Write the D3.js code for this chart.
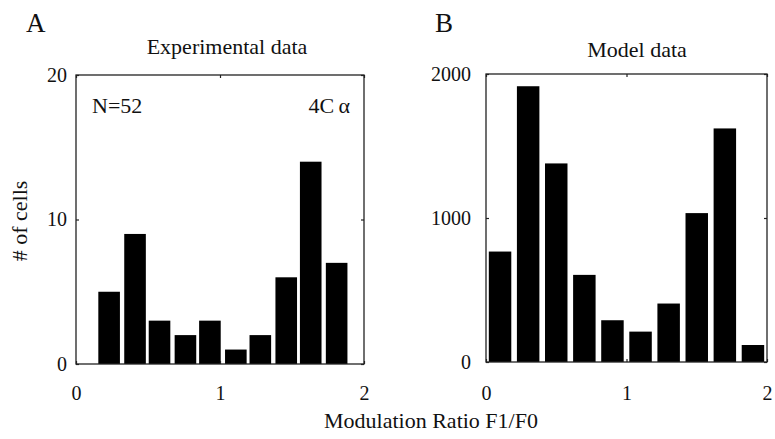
<!DOCTYPE html>
<html>
<head>
<meta charset="utf-8">
<script src="https://cdn.jsdelivr.net/npm/d3@7"></script>
<style>
body { margin: 0; background: #fff; }
text { font-family: "Liberation Serif", "Times New Roman", serif; fill: #111; }
</style>
</head>
<body>
<svg id="fig" width="775" height="439"></svg>
<script>

// panel A: experimental histogram (bin centres, counts)
var exp_centers = [0.23, 0.41, 0.58, 0.76, 0.93, 1.11, 1.28, 1.46, 1.63, 1.81];
var exp_counts  = [5, 9, 3, 2, 3, 1, 2, 6, 14, 7];

// panel B: model histogram
var model_centers = [0.1, 0.3, 0.5, 0.7, 0.9, 1.1, 1.3, 1.5, 1.7, 1.9];
var model_counts  = [767, 1915, 1379, 605, 290, 211, 406, 1034, 1622, 118];

var x_ticks       = [0, 1, 2];
var exp_y_ticks   = [0, 10, 20];
var model_y_ticks = [0, 1000, 2000];

var svg = d3.select("#fig");

function add_panel( box, centers, counts, bar_w, yExt, yTicks, xpad, ypad ){
    var xAxis = d3.scaleLinear().domain([0, 2]).range([box.left, box.right]);
    var yAxis = d3.scaleLinear().domain(yExt).range([box.bottom, box.top]);

    var grp = svg.append("g");

    // bars
    grp.selectAll("rect.bar")
        .data(counts)
        .enter().append("rect")
            .attr("class", "bar")
            .attr("x", function(d, i){ return xAxis(centers[i] - bar_w/2); })
            .attr("width", function(d, i){ return xAxis(centers[i] + bar_w/2) - xAxis(centers[i] - bar_w/2); })
            .attr("y", function(d){ return yAxis(d); })
            .attr("height", function(d){ return yAxis(0) - yAxis(d); })
            .attr("fill", "#000");

    // ticks point inward, like matlab
    var bottom = grp.append("g")
        .attr("transform", "translate(0," + box.bottom + ")")
        .call(d3.axisBottom(xAxis).tickValues(x_ticks).tickSizeInner(-3).tickSizeOuter(0).tickPadding(xpad).tickFormat(d3.format("d")));
    var left = grp.append("g")
        .attr("transform", "translate(" + box.left + ",0)")
        .call(d3.axisLeft(yAxis).tickValues(yTicks).tickSizeInner(-3).tickSizeOuter(0).tickPadding(ypad).tickFormat(d3.format("d")));
    var top = grp.append("g")
        .attr("transform", "translate(0," + box.top + ")")
        .call(d3.axisTop(xAxis).tickValues(x_ticks).tickSizeInner(-3).tickSizeOuter(0).tickFormat(""));
    var right = grp.append("g")
        .attr("transform", "translate(" + box.right + ",0)")
        .call(d3.axisRight(yAxis).tickValues(yTicks).tickSizeInner(-3).tickSizeOuter(0).tickFormat(""));

    [bottom, left, top, right].forEach(function(a){
        a.select(".domain").remove();
        a.selectAll("line").attr("stroke", "#222").attr("stroke-width", 1.2);
        a.selectAll("text").attr("font-size", "20px")
            .attr("font-family", "Liberation Serif, Times New Roman, serif").attr("fill", "#111");
    });

    grp.append("rect")
        .attr("x", box.left)
        .attr("y", box.top)
        .attr("width", box.right - box.left)
        .attr("height", box.bottom - box.top)
        .attr("fill", "none")
        .attr("stroke", "#222")
        .attr("stroke-width", 1.3);
}

function add_text( x, y, str, size, anchor ){
    return svg.append("text")
        .attr("x", x)
        .attr("y", y)
        .attr("font-size", size + "px")
        .attr("text-anchor", anchor || "start")
        .text(str);
}

add_panel({left: 76, right: 364, top: 75, bottom: 364}, exp_centers, exp_counts, 0.15, [0, 20], exp_y_ticks, 22, 9);
add_panel({left: 486, right: 767, top: 74, bottom: 362}, model_centers, model_counts, 0.16, [0, 2000], model_y_ticks, 24, 15);

add_text(26, 32, "A", 27);
add_text(435, 32, "B", 27);
add_text(227, 54, "Experimental data", 22, "middle");
add_text(637, 57, "Model data", 22, "middle");
add_text(92, 113, "N=52", 22);
add_text(350, 113, "4C\u2009\u03b1", 22, "end");
add_text(431, 428, "Modulation Ratio F1/F0", 22, "middle");
add_text(0, 0, "# of cells", 22, "middle")
    .attr("transform", "translate(27,221) rotate(-90)");

</script>
</body>
</html>
